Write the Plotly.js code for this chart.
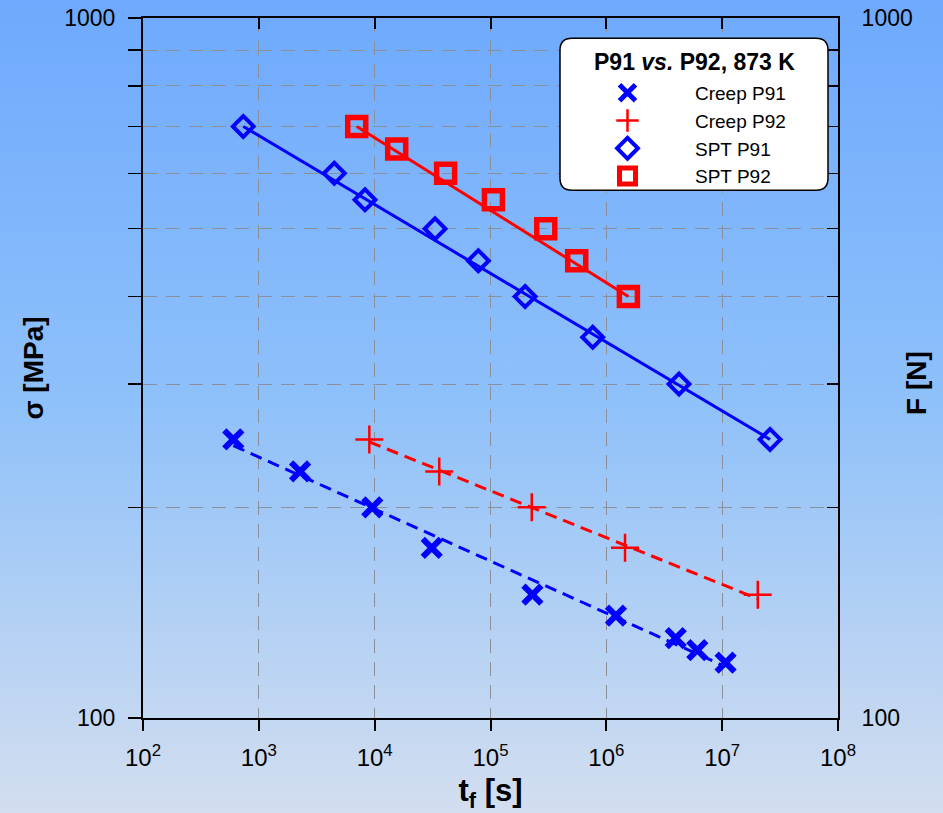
<!DOCTYPE html>
<html>
<head>
<meta charset="utf-8">
<script src="https://cdn.plot.ly/plotly-3.0.1.min.js"></script>
<style>
  html, body { margin: 0; padding: 0; }
  body { width: 943px; height: 813px; background: linear-gradient(to bottom, #6ea9fd 0%, #8fc1fa 50%, #d3deef 100%); }
  #chart { width: 943px; height: 813px; }
</style>
</head>
<body>
<div id="chart"></div>
<script>
// Creep tests (stress, MPa) vs time to failure (s)
const creepP91_t = [602, 2270, 9540, 31100, 230000, 1210000, 3970000, 6100000, 10700000];
const creepP91_s = [250, 225, 200, 175, 150, 140, 130, 125, 120];
const creepP92_t = [8990, 36100, 227000, 1450000, 20300000];
const creepP92_s = [250, 225, 200, 175, 150];
// Small punch tests (force, N) vs time to failure (s)
const sptP91_t = [734, 4480, 8250, 33200, 78500, 199000, 763000, 4240000, 25900000];
const sptP91_F = [700, 600, 550, 500, 450, 400, 350, 300, 250];
const sptP92_t = [7000, 15500, 41000, 106000, 300000, 555000, 1550000];
const sptP92_F = [700, 650, 600, 550, 500, 450, 400];
// Fitted lines (end points)
const fitCreepP91_t = [602, 10700000];
const fitCreepP91_s = [245, 118.4];
const fitCreepP92_t = [8990, 20300000];
const fitCreepP92_s = [248, 148];
const fitSptP91_t = [734, 25900000];
const fitSptP91_F = [700, 250];
const fitSptP92_t = [7000, 1550000];
const fitSptP92_F = [700, 400];
// Axis ticks
const xTickVals = [1e2, 1e3, 1e4, 1e5, 1e6, 1e7, 1e8];
const xTickText = ['10<sup>2</sup>', '10<sup>3</sup>', '10<sup>4</sup>', '10<sup>5</sup>', '10<sup>6</sup>', '10<sup>7</sup>', '10<sup>8</sup>'];
const yTickVals = [100, 200, 300, 400, 500, 600, 700, 800, 900, 1000];
const yTickText = ['100', '', '', '', '', '', '', '', '', '1000'];
const seriesNames = ['Creep P91', 'Creep P92', 'SPT P91', 'SPT P92'];
const legendTitle = '<b>P91 <i>vs.</i> P92, 873 K</b>';
const rightTitle = '<b>F [N]</b>';

const BLUE = '#0000ff', RED = '#ff0000';
const FONT = 'Liberation Sans, Arial, sans-serif';

const traces = [
  {x: fitSptP91_t, y: fitSptP91_F, mode: 'lines', line: {color: BLUE, width: 3}, showlegend: false, hoverinfo: 'skip'},
  {x: fitSptP92_t, y: fitSptP92_F, mode: 'lines', line: {color: RED, width: 3}, showlegend: false, hoverinfo: 'skip'},
  {x: fitCreepP91_t, y: fitCreepP91_s, mode: 'lines', line: {color: BLUE, width: 3, dash: '12px,7px'}, showlegend: false, hoverinfo: 'skip'},
  {x: fitCreepP92_t, y: fitCreepP92_s, mode: 'lines', line: {color: RED, width: 3, dash: '12px,7px'}, showlegend: false, hoverinfo: 'skip'},
  {x: creepP91_t, y: creepP91_s, name: seriesNames[0], mode: 'markers',
   marker: {symbol: 'x-thin-open', size: 18, color: BLUE, line: {color: BLUE, width: 6}}},
  {x: creepP92_t, y: creepP92_s, name: seriesNames[1], mode: 'markers',
   marker: {symbol: 'cross-thin-open', size: 20, color: RED, line: {color: RED, width: 2.5}}},
  {x: sptP91_t, y: sptP91_F, name: seriesNames[2], mode: 'markers',
   marker: {symbol: 'diamond-open', size: 16, color: BLUE, line: {color: BLUE, width: 4}}},
  {x: sptP92_t, y: sptP92_F, name: seriesNames[3], mode: 'markers',
   marker: {symbol: 'square-open', size: 18, color: RED, line: {color: RED, width: 5.5}}}
];

// invisible trace to carry the mirrored top/right axes
traces.push({x: [xTickVals[0]], y: [yTickVals[0]], xaxis: 'x2', yaxis: 'y2', mode: 'markers',
  marker: {opacity: 0}, showlegend: false, hoverinfo: 'skip'});

const r = 12 / 695, ry = 12 / 700;
const x0 = 0.6, x1 = 0.9856, y1 = 0.971, y0 = 0.754;
const boxPath = `M ${x0 + r} ${y1} L ${x1 - r} ${y1} Q ${x1} ${y1} ${x1} ${y1 - ry} L ${x1} ${y0 + ry} Q ${x1} ${y0} ${x1 - r} ${y0} L ${x0 + r} ${y0} Q ${x0} ${y0} ${x0} ${y0 + ry} L ${x0} ${y1 - ry} Q ${x0} ${y1} ${x0 + r} ${y1} Z`;

const layout = {
  width: 943, height: 813,
  margin: {l: 143, r: 105, t: 18, b: 95},
  paper_bgcolor: 'rgba(0,0,0,0)',
  plot_bgcolor: 'rgba(0,0,0,0)',
  font: {family: FONT, color: '#000'},
  showlegend: true,
  xaxis: {
    type: 'log', range: [2, 8], tickvals: xTickVals, ticktext: xTickText,
    ticks: 'outside', ticklen: 11, tickwidth: 2, tickcolor: '#000',
    showline: true, linecolor: '#000', linewidth: 2,
    showgrid: true, gridcolor: '#8a8f99', gridwidth: 1, griddash: '14px,9px',
    zeroline: false, tickfont: {size: 24, family: FONT}, ticklabelstandoff: 6,
    title: {text: '<b>t<sub>f</sub> [s]</b>', font: {size: 31, family: FONT}, standoff: 12}
  },
  yaxis: {
    type: 'log', range: [2, 3], tickvals: yTickVals, ticktext: yTickText,
    ticks: 'outside', ticklen: 13, tickwidth: 1.5, tickcolor: '#000',
    showline: true, linecolor: '#000', linewidth: 2,
    showgrid: true, gridcolor: '#8a8f99', gridwidth: 1, griddash: '14px,9px',
    zeroline: false, tickfont: {size: 23, family: FONT}, ticklabelstandoff: 8,
    title: {text: '<b>σ [MPa]</b>', font: {size: 28, family: FONT}, standoff: 12}
  },
  xaxis2: {
    type: 'log', range: [2, 8], overlaying: 'x', side: 'top', anchor: 'y2',
    tickvals: xTickVals, ticktext: xTickVals.map(() => ''),
    ticks: 'inside', ticklen: 11, tickwidth: 2, tickcolor: '#000',
    showline: true, linecolor: '#000', linewidth: 2, showgrid: false, zeroline: false
  },
  yaxis2: {
    type: 'log', range: [2, 3], overlaying: 'y', side: 'right', anchor: 'x2',
    tickvals: yTickVals, ticktext: yTickText,
    ticks: 'inside', ticklen: 11, tickwidth: 1.5, tickcolor: '#000',
    showline: true, linecolor: '#000', linewidth: 2, showgrid: false, zeroline: false,
    tickfont: {size: 23, family: FONT}, ticklabelstandoff: 17
  },
  legend: {
    x: 0.6, xanchor: 'left', y: 0.92, yanchor: 'top',
    bgcolor: 'rgba(0,0,0,0)', borderwidth: 0,
    font: {size: 19, family: FONT},
    itemwidth: 125, tracegroupgap: 0
  },
  annotations: [{
    text: legendTitle, xref: 'paper', yref: 'paper', x: 0.793, y: (718 - 62) / 700,
    xanchor: 'center', yanchor: 'middle', showarrow: false,
    font: {size: 23, family: FONT, color: '#000'}
  }, {
    text: rightTitle, xref: 'paper', yref: 'paper', x: (917 - 143) / 695, y: (718 - 383) / 700,
    xanchor: 'center', yanchor: 'middle', showarrow: false, textangle: -90,
    font: {size: 28, family: FONT, color: '#000'}
  }],
  shapes: [{
    type: 'path', xref: 'paper', yref: 'paper', path: boxPath,
    fillcolor: '#ffffff', line: {color: '#000', width: 1.5}, layer: 'above'
  }]
};

Plotly.newPlot('chart', traces, layout, {displayModeBar: false, staticPlot: true});
</script>
</body>
</html>
